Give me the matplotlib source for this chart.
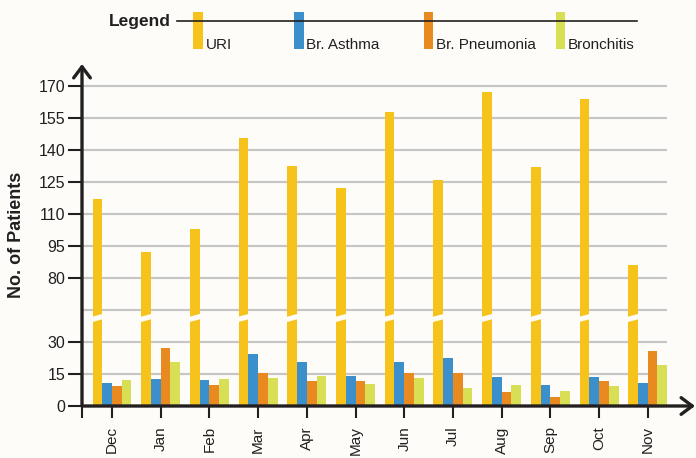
import matplotlib
matplotlib.use("Agg")
import matplotlib.pyplot as plt
import numpy as np
from matplotlib.patches import Rectangle, Polygon
from matplotlib.lines import Line2D

months = ["Dec", "Jan", "Feb", "Mar", "Apr", "May", "Jun", "Jul", "Aug", "Sep", "Oct", "Nov"]
series = ["URI", "Br. Asthma", "Br. Pneumonia", "Bronchitis"]
uri = [117, 92, 103, 145.5, 132.5, 122, 158, 126, 167, 132, 164, 86]
asthma = [11, 12.5, 12, 24.5, 20.5, 14, 20.5, 22.5, 13.5, 10, 13.5, 11]
pneumonia = [9.5, 27, 10, 15.5, 11.5, 11.5, 15.5, 15.5, 6.5, 4, 11.5, 26]
bronchitis = [12, 20.5, 12.5, 13, 14, 10.5, 13, 8.5, 10, 7, 9.5, 19]
colors = ["#f6c31c", "#3b8fca", "#e98a20", "#d8df55"]
yticks = [0, 15, 30, 80, 95, 110, 125, 140, 155, 170]

# broken axis: 30..80 squeezed into 30..60
real_pts = [-100, 30, 80, 400]
disp_pts = [-100, 30, 60, 380]

def fwd(v):
    return np.interp(v, real_pts, disp_pts)

def inv(d):
    return np.interp(d, disp_pts, real_pts)

bg = "#fdfcf8"
ink = "#231f20"
plt.rcParams["font.family"] = ["Liberation Sans", "DejaVu Sans"]

fig = plt.figure(figsize=(6.96, 4.58), dpi=100, facecolor=bg)
ax = fig.add_axes([82 / 696, 1 - 406 / 458, 613 / 696, 342 / 458])
ax.set_facecolor(bg)
ax.set_yscale("function", functions=(fwd, inv))

x = np.arange(len(months))
w = 0.2
data = [uri, asthma, pneumonia, bronchitis]
for k, vals in enumerate(data):
    ax.bar(x + (k - 1.5) * w, vals, width=w, color=colors[k], zorder=3, linewidth=0)

# break marks on the URI bars
c, h, s = 41.25, 1.25, 0.8
for i in x:
    xl = i - 2 * w - 0.03
    xr = i - w + 0.03
    pts = [(xl, inv(c - h - s)), (xr, inv(c - h + s)), (xr, inv(c + h + s)), (xl, inv(c + h - s))]
    ax.add_patch(Polygon(pts, closed=True, facecolor=bg, edgecolor="none", zorder=4))

xl0 = -0.616
ax.set_xlim(xl0, 11.97)
ax.set_ylim(0, inv(160.3))

for v in yticks[1:] + [55]:
    ax.plot([xl0, 11.4], [v, v], color="#c6c6c6", lw=1.6, zorder=1, solid_capstyle="butt")

for sp in ax.spines.values():
    sp.set_visible(False)
ax.annotate("", xy=(0, 1), xytext=(0, 0), xycoords="axes fraction",
            arrowprops=dict(arrowstyle="->,head_length=0.4,head_width=0.3", lw=2.4,
                            color=ink, shrinkA=0, shrinkB=0, mutation_scale=20), zorder=6)
ax.annotate("", xy=(1, 0), xytext=(0, 0), xycoords="axes fraction",
            arrowprops=dict(arrowstyle="->,head_length=0.4,head_width=0.3", lw=2.4,
                            color=ink, shrinkA=0, shrinkB=0, mutation_scale=20), zorder=6)

ax.set_yticks(yticks)
ax.set_yticklabels([str(v) for v in yticks])
ax.yaxis.set_minor_locator(matplotlib.ticker.NullLocator())
ax.set_xticks(x)
ax.set_xticklabels(months, rotation=90)
ax.set_xticks([xl0], minor=True)
ax.tick_params(axis="y", length=10, width=1.5, color=ink, pad=2, labelsize=11.5, labelcolor=ink)
ax.tick_params(axis="x", which="both", length=8.6, width=1.5, color=ink, pad=6, labelsize=11, labelcolor=ink)

fig.text(17 / 696, 1 - 235 / 458, "No. of Patients", rotation=90, ha="center", va="center",
         fontsize=13, fontweight="bold", color=ink)

# legend strip
fig.add_artist(Line2D([177 / 696, 637 / 696], [1 - 20.7 / 458] * 2, color=ink, lw=1.2))
fig.text(171 / 696, 1 - 26 / 458, "Legend", ha="right", va="baseline", fontsize=12.5,
         fontweight="bold", color=ink)
swatch_x = [193, 294, 423.5, 555.5]
for k, name in enumerate(series):
    fig.add_artist(Rectangle((swatch_x[k] / 696, 1 - 48.7 / 458), 9.8 / 696, 36.4 / 458,
                             transform=fig.transFigure, facecolor=colors[k], edgecolor="none"))
    fig.text((swatch_x[k] + 12.5) / 696, 1 - 48.7 / 458, name, ha="left", va="baseline",
             fontsize=11, color=ink)

fig.savefig("out.png", dpi=100, facecolor=bg)
